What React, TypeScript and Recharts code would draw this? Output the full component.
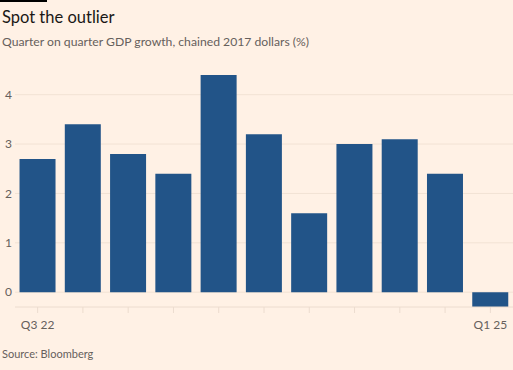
import { BarChart, Bar, XAxis, YAxis, CartesianGrid } from 'recharts';

const quarters = ['Q3 22', 'Q4 22', 'Q1 23', 'Q2 23', 'Q3 23', 'Q4 23', 'Q1 24', 'Q2 24', 'Q3 24', 'Q4 24', 'Q1 25'];
const growth = [2.7, 3.4, 2.8, 2.4, 4.4, 3.2, 1.6, 3.0, 3.1, 2.4, -0.3];
const yTicks = [0, 1, 2, 3, 4];
const shownLabels = ['Q3 22', 'Q1 25'];

const data = quarters.map((q, i) => ({ quarter: q, growth: growth[i] }));

const font = 'Lato, sans-serif';

export default function App() {
  return (
    <div
      style={{
        position: 'absolute',
        left: 0,
        top: 0,
        width: 513,
        height: 370,
        background: '#fff1e5',
        fontFamily: font,
        overflow: 'hidden'
      }}
    >
      <div style={{ position: 'absolute', left: 0, top: 0, width: 47, height: 2, background: '#000' }} />
      <div style={{ position: 'absolute', left: 2, top: 6, fontSize: 16.5, color: '#1a1816', lineHeight: '22px' }}>
        Spot the outlier
      </div>
      <div style={{ position: 'absolute', left: 2, top: 33, fontSize: 12.2, color: '#66605c', lineHeight: '18px' }}>
        Quarter on quarter GDP growth, chained 2017 dollars (%)
      </div>
      <div style={{ position: 'absolute', left: 0, top: 0 }}>
        <BarChart
          width={513}
          height={370}
          data={data}
          margin={{ top: 70, right: 0, bottom: 33, left: 0 }}
          barCategoryGap="10%"
        >
          <CartesianGrid vertical={false} stroke="#f2e2d4" syncWithTicks horizontalValues={yTicks} />
          <XAxis
            dataKey="quarter"
            interval={0}
            height={30}
            stroke="#ecdccf"
            tickSize={6}
            tickMargin={7}
            tick={{ fill: '#66605c', fontSize: 12, fontFamily: font }}
            tickFormatter={(v: string) => (shownLabels.includes(v) ? v : '')}
          />
          <YAxis
            domain={[-0.3, 4.5]}
            ticks={yTicks}
            width={15}
            axisLine={false}
            tickLine={false}
            tickSize={1}
            tickMargin={2}
            tick={{ fill: '#66605c', fontSize: 12, fontFamily: font }}
          />
          <Bar dataKey="growth" fill="#225488" isAnimationActive={false} />
        </BarChart>
      </div>
      <div style={{ position: 'absolute', left: 2, top: 346, fontSize: 11, color: '#66605c', lineHeight: '16px' }}>
        Source: Bloomberg
      </div>
    </div>
  );
}
